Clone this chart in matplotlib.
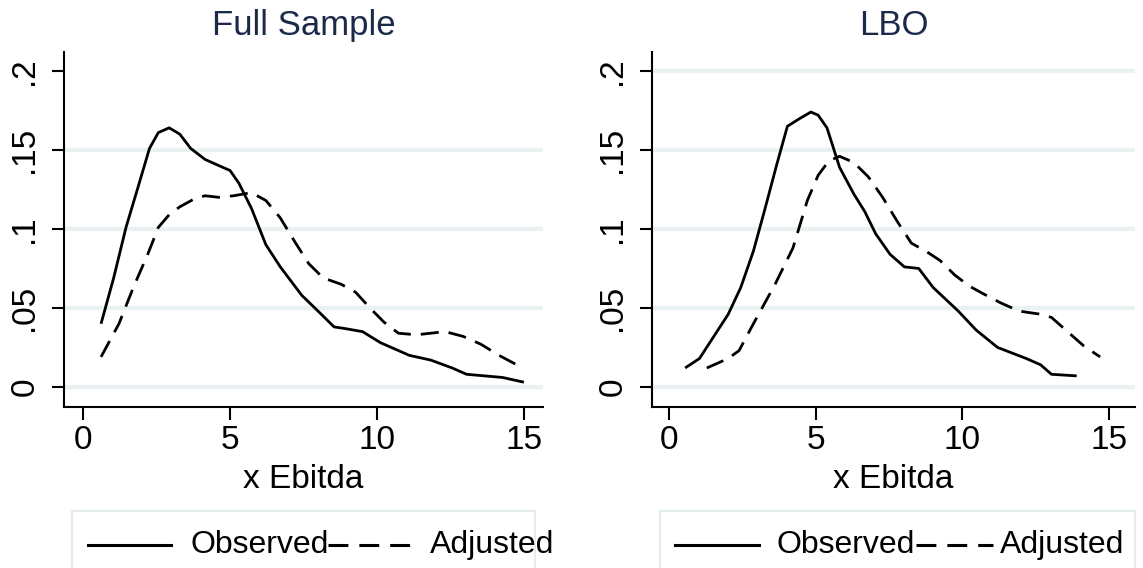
import matplotlib
matplotlib.use("Agg")
import matplotlib.pyplot as plt
from matplotlib.lines import Line2D
from matplotlib.patches import Rectangle

plt.rcParams['font.family'] = ['Liberation Sans', 'DejaVu Sans']

# Full Sample - densities
full_obs_x = [0.61, 1.04, 1.46, 1.83, 2.26, 2.56, 2.93, 3.29, 3.66, 4.15, 4.63, 5.0, 5.30, 5.73,
              6.22, 6.71, 7.44, 8.05, 8.54, 8.90, 9.51, 10.12, 10.61, 11.10, 11.83, 12.56, 13.05,
              13.66, 14.27, 15.0]
full_obs_y = [0.040, 0.069, 0.101, 0.124, 0.151, 0.161, 0.164, 0.160, 0.151, 0.144, 0.140, 0.137,
              0.129, 0.113, 0.090, 0.076, 0.058, 0.047, 0.038, 0.037, 0.035, 0.028, 0.024, 0.020,
              0.017, 0.012, 0.008, 0.007, 0.006, 0.003]
full_adj_x = [0.61, 1.22, 1.71, 2.20, 2.56, 2.93, 3.29, 3.78, 4.15, 4.63, 5.12, 5.73, 6.22, 6.71,
              7.20, 7.68, 8.17, 8.78, 9.27, 9.76, 10.24, 10.73, 11.34, 11.83, 12.32, 12.93, 13.54,
              14.15, 14.76]
full_adj_y = [0.019, 0.040, 0.063, 0.084, 0.101, 0.109, 0.114, 0.119, 0.121, 0.120, 0.121, 0.123,
              0.118, 0.107, 0.092, 0.078, 0.069, 0.065, 0.060, 0.050, 0.041, 0.034, 0.033, 0.034,
              0.035, 0.032, 0.027, 0.020, 0.014]

# LBO
lbo_obs_x = [0.55, 1.04, 1.53, 2.02, 2.45, 2.88, 3.25, 3.68, 4.04, 4.47, 4.84, 5.09, 5.39, 5.82,
             6.31, 6.68, 7.05, 7.54, 8.03, 8.52, 9.01, 9.87, 10.48, 11.21, 12.19, 12.68, 13.05, 13.91]
lbo_obs_y = [0.012, 0.018, 0.032, 0.046, 0.063, 0.086, 0.111, 0.141, 0.165, 0.170, 0.174, 0.172,
             0.164, 0.139, 0.122, 0.111, 0.097, 0.084, 0.076, 0.075, 0.063, 0.048, 0.036, 0.025,
             0.018, 0.014, 0.008, 0.007]
lbo_adj_x = [1.29, 2.02, 2.39, 2.88, 3.62, 4.23, 4.72, 5.09, 5.45, 5.82, 6.31, 6.80, 7.29, 7.78,
             8.27, 8.76, 9.25, 9.74, 10.23, 10.72, 11.34, 11.95, 12.68, 13.05, 13.66, 14.15, 14.71]
lbo_adj_y = [0.012, 0.018, 0.023, 0.040, 0.065, 0.088, 0.118, 0.134, 0.143, 0.146, 0.142, 0.133,
             0.120, 0.105, 0.091, 0.086, 0.080, 0.071, 0.064, 0.059, 0.053, 0.048, 0.046, 0.044,
             0.034, 0.026, 0.019]

titles = ["Full Sample", "LBO"]
series_labels = ["Observed", "Adjusted"]
x_ticks = [0, 5, 10, 15]
y_ticks = [0, 0.05, 0.1, 0.15, 0.2]
y_ticklabels = ["0", ".05", ".1", ".15", ".2"]
x_label = "x Ebitda"

W, H = 1143, 568
fig = plt.figure(figsize=(W / 100, H / 100), dpi=100)

# axes positions in pixels: left, right, top, bottom
boxes = [(64, 543, 52, 407), (652, 1135, 52, 407)]
xlims = [(-0.65, 15.65), (-0.58, 15.9)]
data = [(full_obs_x, full_obs_y, full_adj_x, full_adj_y),
        (lbo_obs_x, lbo_obs_y, lbo_adj_x, lbo_adj_y)]

grid_col = "#eaf1f3"
dash = (0, (6.5, 3.6))
lw = 2.0

for i in range(2):
    l, r, t, b = boxes[i]
    ax = fig.add_axes([l / W, 1 - b / H, (r - l) / W, (b - t) / H])
    ox, oy, ax_, ay = data[i]
    ax.plot(ox, oy, color="black", lw=lw, solid_capstyle="butt", zorder=3)
    ax.plot(ax_, ay, color="black", lw=lw, linestyle=dash, zorder=3)

    ax.set_xlim(*xlims[i])
    ax.set_ylim(-0.0127, 0.212)
    ax.set_xticks(x_ticks)
    ax.set_yticks(y_ticks)
    ax.set_yticklabels(y_ticklabels, rotation=90, va="center")
    for sp in ["top", "right"]:
        ax.spines[sp].set_visible(False)
    for sp in ["left", "bottom"]:
        ax.spines[sp].set_linewidth(1.5)
    ax.tick_params(axis="both", length=9, width=1.5, labelsize=24)
    ax.tick_params(axis="x", pad=4)
    ax.tick_params(axis="y", pad=8)
    ax.grid(axis="y", color=grid_col, lw=3)
    ax.set_axisbelow(True)
    if i == 0:
        # no gridline at .2 in the left panel
        ax.yaxis.get_gridlines()[4].set_visible(False)
    ax.set_xlabel(x_label, fontsize=24, labelpad=6)
    ax.set_title(titles[i], fontsize=25, color="#1c2a4a", pad=12)

# legends (drawn in figure space)
legend_boxes = [(72, 535), (660, 1135)]
legend_items = [
    (88, 171, 190, 328, 412, 430),
    (675, 759, 777, 916, 993, 1000),
]
ly = 1 - 545 / H
for i in range(2):
    bl, br = legend_boxes[i]
    fig.add_artist(Rectangle((bl / W, -0.05), (br - bl) / W, 0.05 + (1 - 511 / H),
                             transform=fig.transFigure, fill=False,
                             edgecolor="#e3ecee", lw=1.5))
    s0, s1, t1, d0, d1, t2 = legend_items[i]
    fig.add_artist(Line2D([s0 / W, s1 / W], [ly, ly], transform=fig.transFigure,
                          color="black", lw=2.2))
    fig.text(t1 / W, ly, series_labels[0], fontsize=23, va="center", ha="left")
    fig.add_artist(Line2D([d0 / W, d1 / W], [ly, ly], transform=fig.transFigure,
                          color="black", lw=2.2, linestyle=dash))
    fig.text(t2 / W, ly, series_labels[1], fontsize=23, va="center", ha="left")

fig.savefig("out.png", dpi=100)
